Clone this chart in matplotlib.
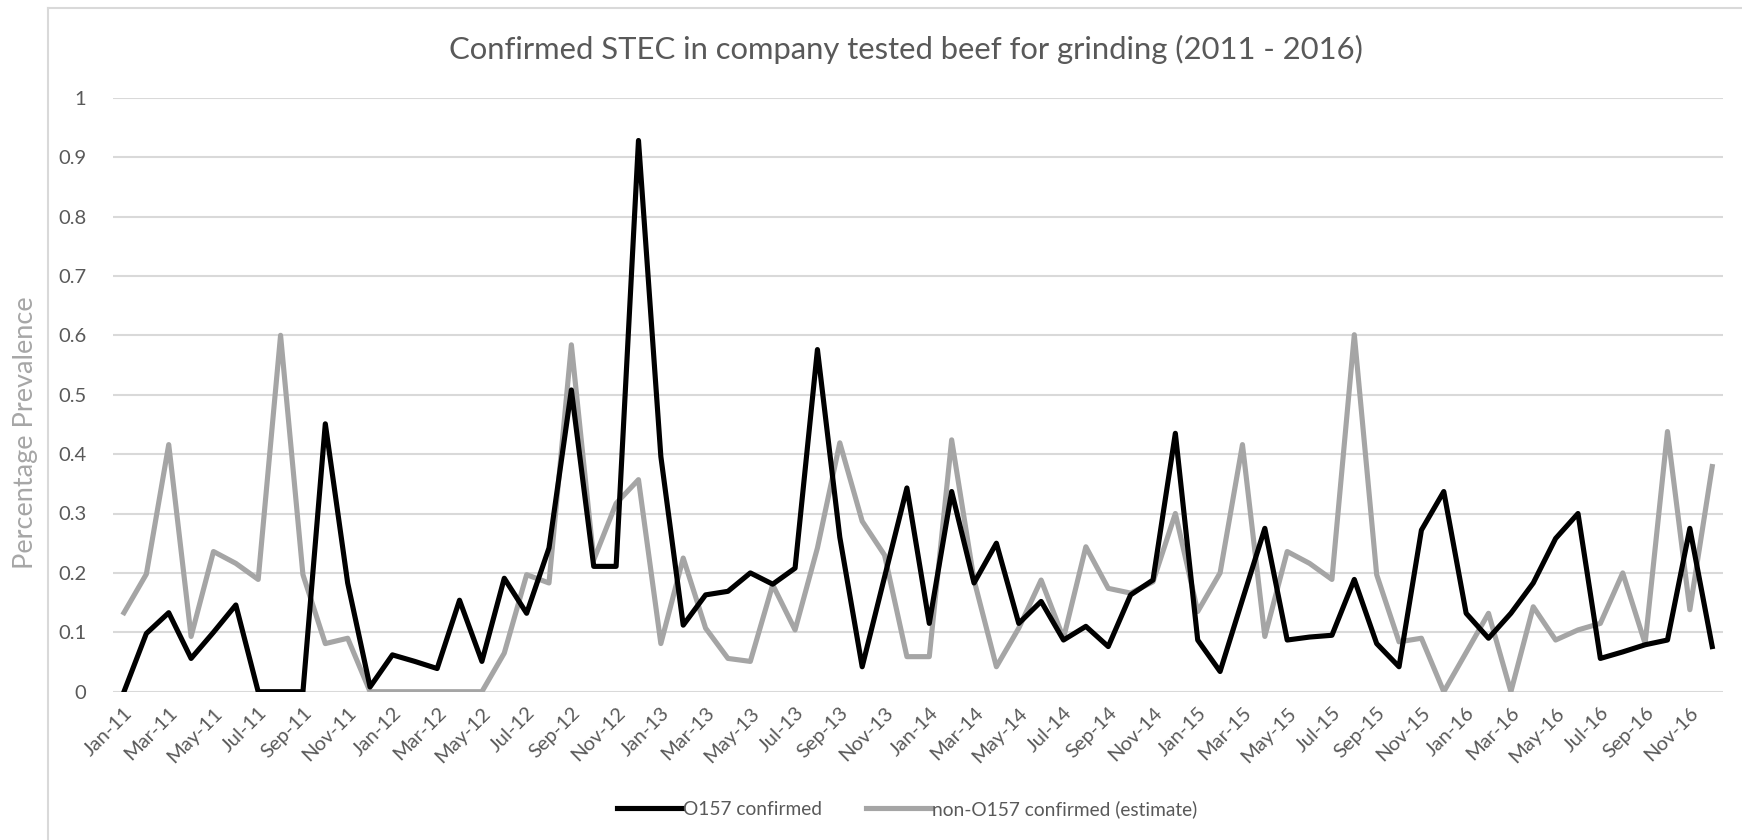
import matplotlib
matplotlib.use("Agg")
import matplotlib.pyplot as plt
import numpy as np
from matplotlib.lines import Line2D

plt.rcParams['font.family'] = ['Lato', 'DejaVu Sans']

# Monthly prevalence, Jan-2011 .. Dec-2016
MONTHS = ['Jan', 'Feb', 'Mar', 'Apr', 'May', 'Jun',
          'Jul', 'Aug', 'Sep', 'Oct', 'Nov', 'Dec']
YEARS = ['11', '12', '13', '14', '15', '16']

o157 = [0.000, 0.098, 0.133, 0.056, 0.100, 0.146, 0.000, 0.000, 0.000, 0.451, 0.183, 0.008,
        0.062, 0.051, 0.039, 0.154, 0.051, 0.191, 0.132, 0.242, 0.508, 0.211, 0.211, 0.928,
        0.396, 0.112, 0.163, 0.169, 0.200, 0.181, 0.208, 0.576, 0.260, 0.042, 0.193, 0.343,
        0.115, 0.337, 0.183, 0.250, 0.115, 0.152, 0.087, 0.110, 0.076, 0.163, 0.188, 0.435,
        0.087, 0.034, 0.155, 0.275, 0.087, 0.092, 0.095, 0.189, 0.081, 0.042, 0.272, 0.337,
        0.132, 0.090, 0.132, 0.183, 0.258, 0.300, 0.056, 0.067, 0.079, 0.087, 0.275, 0.076]

non_o157 = [0.133, 0.198, 0.416, 0.093, 0.236, 0.216, 0.189, 0.600, 0.197, 0.081, 0.090, 0.000,
            0.000, 0.000, 0.000, 0.000, 0.000, 0.065, 0.197, 0.183, 0.584, 0.222, 0.317, 0.357,
            0.081, 0.225, 0.107, 0.056, 0.051, 0.180, 0.104, 0.242, 0.419, 0.287, 0.230, 0.059,
            0.059, 0.424, 0.188, 0.042, 0.107, 0.188, 0.090, 0.244, 0.174, 0.166, 0.185, 0.300,
            0.135, 0.200, 0.416, 0.093, 0.236, 0.216, 0.189, 0.601, 0.197, 0.084, 0.090, 0.000,
            0.066, 0.132, 0.000, 0.143, 0.087, 0.104, 0.115, 0.200, 0.081, 0.438, 0.138, 0.379]

labels = [f"{m}-{y}" for y in YEARS for m in MONTHS]
x = np.arange(len(labels))

TEXT = '#595959'
GRID = '#d9d9d9'
BLACK = '#000000'
GRAY = '#a5a5a5'

fig = plt.figure(figsize=(17.42, 8.4), dpi=100)
W, H = 1742, 840
ax_w = 1723.4 - 112.8
ax_h = 691.7 - 97.7
ax = fig.add_axes([112.8 / W, 1 - 691.7 / H, ax_w / W, ax_h / H])

# chart frame (only left and top edges fall inside the image)
fig.add_artist(Line2D([48 / W, 48 / W], [0, 1 - 8 / H], transform=fig.transFigure, color=GRID, lw=1.5))
fig.add_artist(Line2D([48 / W, 1], [1 - 8 / H, 1 - 8 / H], transform=fig.transFigure, color=GRID, lw=1.5))

ax.plot(x, o157, color=BLACK, lw=3.7, solid_joinstyle='round', zorder=3, label='O157 confirmed')
ax.plot(x, non_o157, color=GRAY, lw=3.7, solid_joinstyle='round', zorder=2,
        label='non-O157 confirmed (estimate)')

ax.set_xlim(-0.5, len(labels) - 0.5)
ax.set_ylim(0, 1)
ax.set_yticks(np.arange(0, 1.01, 0.1))
ax.set_yticklabels(['0', '0.1', '0.2', '0.3', '0.4', '0.5', '0.6', '0.7', '0.8', '0.9', '1'])
ax.grid(axis='y', color=GRID, lw=1.5)
ax.set_axisbelow(True)
for s in ax.spines.values():
    s.set_visible(False)

ax.set_xticks(x[::2])
ax.set_xticklabels(labels[::2], rotation=45, ha='right', va='top', rotation_mode='anchor')
ax.tick_params(axis='both', length=0, colors=TEXT, labelsize=14.5)
ax.tick_params(axis='y', pad=19)
ax.tick_params(axis='x', pad=9)

ax.set_ylabel('Percentage Prevalence', color='#a6a6a6', fontsize=19.5)
ax.yaxis.set_label_coords((38 - 112.8) / ax_w, (691.7 - 433) / ax_h)

fig.text(906 / W, 1 - 49 / H, 'Confirmed STEC in company tested beef for grinding (2011 - 2016)',
         ha='center', va='center', color=TEXT, fontsize=22.3)

fig.legend(loc='center', bbox_to_anchor=(907 / W, 1 - 809 / H), ncol=2, frameon=False,
           fontsize=13.8, labelcolor=TEXT, handlelength=3.4, handletextpad=0.05,
           columnspacing=2.3)

fig.savefig('out.png', dpi=100)
